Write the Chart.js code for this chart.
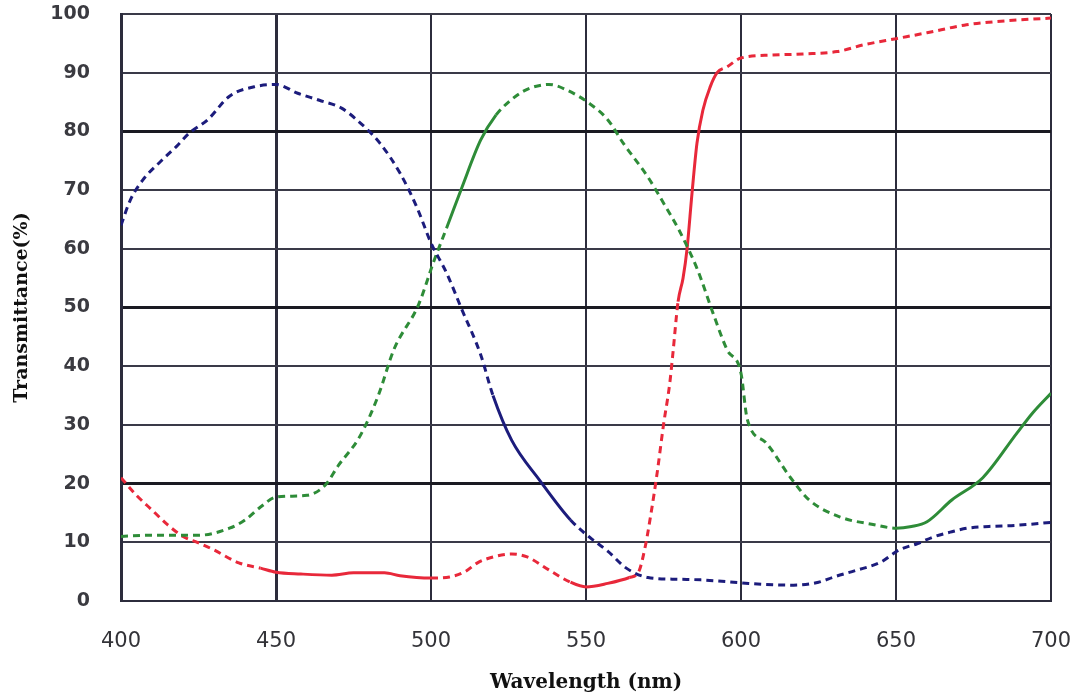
<!DOCTYPE html>
<html>
<head>
<meta charset="utf-8">
<title>Transmittance</title>
<script src="https://cdn.jsdelivr.net/npm/chart.js@4.4.1/dist/chart.umd.min.js"></script>
<style>
    body { margin: 0; background: #ffffff; }
    #chart { display: block; }
</style>
</head>
<body>
<canvas id="chart" width="1071" height="699"></canvas>
<script>
// values (wavelength nm / transmittance %)
const BLUE_NM = [400, 403, 407, 413, 418, 422, 428, 435, 443, 450, 457, 464, 471, 476, 483.5, 490, 495.5, 500, 505, 510, 516, 520, 526, 535, 545, 552, 557, 563, 570, 580, 587, 600, 608, 617, 625, 630, 637, 645, 651, 657, 662, 668, 673, 680, 689, 700];
const BLUE_T = [64, 68.3, 71.7, 75, 77.5, 79.7, 82, 86, 87.6, 88, 86.5, 85.3, 84, 82, 78, 72.9, 67, 61, 55.9, 49.6, 42, 35, 27.4, 20.6, 13.8, 10.5, 8.5, 5.6, 4, 3.7, 3.6, 3.1, 2.8, 2.7, 3.2, 4.1, 5.2, 6.6, 8.7, 9.8, 10.9, 11.8, 12.4, 12.7, 12.9, 13.4];

const GREEN_NM = [400, 410, 425, 435, 440, 445, 450, 460, 466, 470, 477, 483, 488, 496, 501, 505, 510, 516, 521, 525, 530, 534, 538, 544, 551, 557, 562, 570, 575, 580, 586, 591, 595.5, 600, 602, 608, 616, 622, 632, 643, 650, 655, 660, 668, 678, 689, 694, 700];
const GREEN_T = [11, 11.2, 11.2, 12.4, 13.8, 16, 17.7, 18, 19.8, 23, 28, 35, 42.8, 50.5, 58, 63.5, 70.5, 78.5, 82.8, 85, 86.9, 87.7, 88, 87, 84.8, 82, 78, 72.2, 67.8, 63.2, 56.4, 49, 42.8, 38.8, 31, 27, 21, 17.2, 14.3, 13, 12.4, 12.7, 13.5, 17.2, 21, 28.6, 32, 35.4];

const RED_NM = [400, 405, 410, 415, 420, 425, 430, 438, 445, 450, 458, 468, 475, 485, 490, 500, 506, 511, 515, 520, 526, 531, 538, 545, 550, 557, 564, 567, 569, 571, 573, 575, 577, 578, 579.7, 581.3, 582.6, 584.2, 585.8, 587.7, 590, 592.3, 595.5, 600, 610, 620, 631, 640, 650, 660, 672, 680, 690, 700];
const RED_T = [21, 18, 15.5, 13, 11, 9.9, 8.7, 6.5, 5.6, 4.9, 4.6, 4.4, 4.8, 4.8, 4.3, 3.9, 4.1, 5, 6.5, 7.5, 8, 7.5, 5.3, 3.2, 2.4, 3, 4, 5, 9, 15, 22, 30, 37, 42, 51, 55, 60, 69.5, 78, 83.6, 87.5, 90, 91, 92.5, 93, 93.2, 93.6, 94.8, 95.8, 96.8, 98.1, 98.6, 99, 99.3];

const X_MIN = 400, X_MAX = 700, X_STEP = 50;
const Y_MIN = 0, Y_MAX = 100, Y_STEP = 10;

const BLUE = '#1c1c7c';
const GREEN = '#2e8c38';
const RED = '#e8283a';
const DASH = [7, 5];

function toPoints(xs, ys) {
    let pts = [];
    for (let i = 0; i < xs.length; i++) {
        pts.push({ x: xs[i], y: ys[i] });
    }
    return pts;
}

// stretches of each curve that are drawn solid instead of dashed
function dashUnless(solidRanges) {
    return function (ctx) {
        let a = ctx.p0.parsed.x, b = ctx.p1.parsed.x;
        for (let r of solidRanges) {
            if (a >= r[0] && b <= r[1]) return [];
        }
        return DASH;
    };
}

function makeSet(label, xs, ys, color, solid) {
    return {
        label: label,
        data: toPoints(xs, ys),
        borderColor: color,
        backgroundColor: color,
        borderWidth: 3,
        borderDash: DASH,
        pointRadius: 0,
        cubicInterpolationMode: 'monotone',
        segment: { borderDash: dashUnless(solid) }
    };
}

// tick padding would otherwise be added to the plot margins
function noScalePadding(scale) {
    scale.paddingTop = 0;
    scale.paddingBottom = 0;
    scale.paddingLeft = 0;
    scale.paddingRight = 0;
}

const thick = v => v === 20 || v === 50 || v === 80;

new Chart(document.getElementById('chart').getContext('2d'), {
    type: 'line',
    data: {
        datasets: [
            makeSet('Blue', BLUE_NM, BLUE_T, BLUE, [[520, 545]]),
            makeSet('Green', GREEN_NM, GREEN_T, GREEN, [[505, 521], [650, 700]]),
            makeSet('Red', RED_NM, RED_T, RED, [[440, 500], [545, 565], [579, 593]])
        ]
    },
    options: {
        responsive: false,
        animation: false,
        layout: { padding: { left: 0, right: 20, top: 14, bottom: 0 } },
        plugins: {
            legend: { display: false },
            tooltip: { enabled: false }
        },
        scales: {
            x: {
                type: 'linear',
                min: X_MIN,
                max: X_MAX,
                afterFit: function (scale) {
                    scale.height = 98;
                    noScalePadding(scale);
                },
                ticks: {
                    stepSize: X_STEP,
                    padding: 28,
                    color: '#333338',
                    font: { family: 'DejaVu Sans', size: 21 }
                },
                grid: {
                    drawTicks: false,
                    color: '#2c2c3c',
                    lineWidth: ctx => ctx.tick && ctx.tick.value === 450 ? 3 : 2
                },
                border: { color: '#2c2c3c', width: 2 },
                title: {
                    display: true,
                    text: 'Wavelength (nm)',
                    color: '#111111',
                    font: { family: 'DejaVu Serif', size: 20, weight: 'bold' },
                    padding: { top: 0, bottom: 4 }
                }
            },
            y: {
                min: Y_MIN,
                max: Y_MAX,
                afterFit: function (scale) {
                    scale.width = 121;
                    noScalePadding(scale);
                },
                ticks: {
                    stepSize: Y_STEP,
                    padding: 31,
                    color: '#3a3a40',
                    font: { family: 'DejaVu Sans', size: 19, weight: 'bold' }
                },
                grid: {
                    drawTicks: false,
                    color: ctx => ctx.tick && thick(ctx.tick.value) ? '#1a1a22' : '#3a3a48',
                    lineWidth: ctx => ctx.tick && thick(ctx.tick.value) ? 3 : 2
                },
                border: { color: '#2c2c3c', width: 3 },
                title: {
                    display: true,
                    text: 'Transmittance(%)',
                    color: '#111111',
                    font: { family: 'DejaVu Serif', size: 19, weight: 'bold' },
                    padding: { top: 11, bottom: 0 }
                }
            }
        }
    }
});
</script>
</body>
</html>
